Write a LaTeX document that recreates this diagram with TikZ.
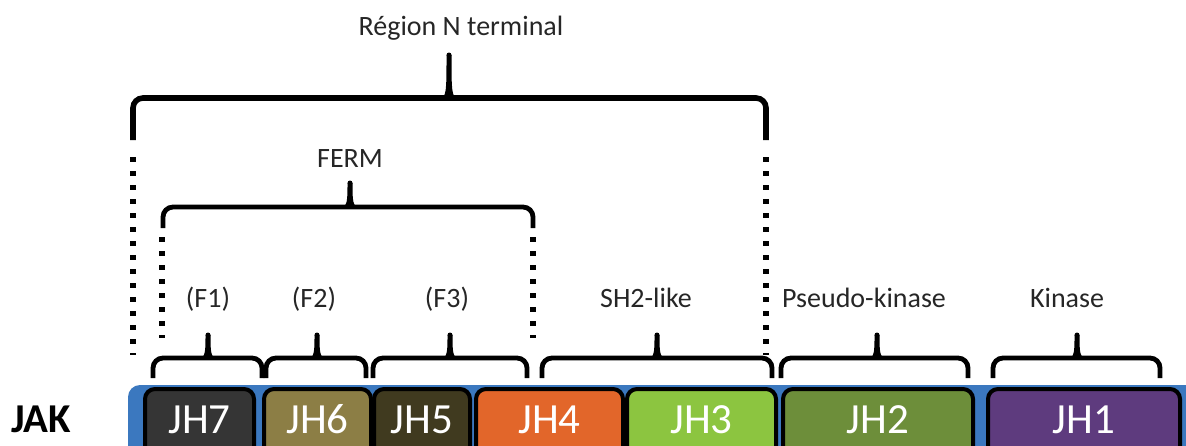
\documentclass[tikz,border=0pt]{standalone}
\usepackage{fontspec}
\setmainfont{Carlito}
\usetikzlibrary{calc}

\definecolor{jakblue}{HTML}{3B78BF}
\definecolor{jhseven}{HTML}{353535}
\definecolor{jhsix}{HTML}{8C7E45}
\definecolor{jhfive}{HTML}{403A1F}
\definecolor{jhfour}{HTML}{E2662A}
\definecolor{jhthree}{HTML}{8CC540}
\definecolor{jhtwo}{HTML}{6D8E3A}
\definecolor{jhone}{HTML}{5E3B7E}

\tikzset{
  lbl/.style={anchor=base, inner sep=0pt, font=\fontsize{14}{16}\selectfont, text=black!85},
  domainbox/.style={draw=black, line width=2pt, rounded corners=5pt},
  domaintext/.style={anchor=base, inner sep=0pt, text=white, font=\fontsize{21.5}{24}\selectfont},
  dotline/.style={line width=2.7pt, dash pattern=on 2.7pt off 4.3pt},
}

% brace: [width]{left}{right}{tip x}{tip y}{bar y}{foot y}
\newcommand{\jakbrace}[7][2.4pt]{%
  \draw[line width=#1, rounded corners=5pt] (#2,#7) |- (#3,#6) -- (#3,#7);
  \fill (#4-10,#6+1) .. controls (#4-2.5,#6) and (#4-2.5,#6-6) .. (#4-2.5,#5)
    -- (#4+2.5,#5) .. controls (#4+2.5,#6-6) and (#4+2.5,#6) .. (#4+10,#6+1) -- cycle;
  \fill (#4,#5) circle (1.25pt);
}

\begin{document}
\begin{tikzpicture}[x=0.5pt, y=-0.5pt]
\useasboundingbox (0,0) rectangle (1186,445);
\clip (0,0) rectangle (1186,445);

% protein bar
\fill[jakblue, rounded corners=6pt] (128,385) rectangle (1210,480);
\foreach \xa/\xb/\col/\lab in {145/254/jhseven/JH7, 264/371/jhsix/JH6, 374/470/jhfive/JH5,
    476/623/jhfour/JH4, 627/776/jhthree/JH3, 783/973/jhtwo/JH2, 988/1180/jhone/JH1}{
  \draw[domainbox, fill=\col] (\xa,389) rectangle (\xb,470);
  \node[domaintext] (\lab) at ({(\xa+\xb)/2},433) {\lab};
}
\node[anchor=base, inner sep=0pt, font=\bfseries\fontsize{20.5}{24}\selectfont] (jak) at (41,432) {JAK};

% domain braces
\jakbrace{153}{262}{208}{335}{358}{378}
\jakbrace{266}{366}{317}{335}{358}{378}
\jakbrace{373}{527}{450}{335}{358}{378}
\jakbrace{542}{772}{657}{335}{358}{378}
\jakbrace{781}{968}{877}{335}{358}{378}
\jakbrace{993}{1160}{1077}{335}{358}{378}

\node[lbl] (f1) at (208,307) {(F1)};
\node[lbl] (f2) at (314,307) {(F2)};
\node[lbl] (f3) at (447,307) {(F3)};
\node[lbl] (sh2) at (646,307) {SH2-like};
\node[lbl] (pseudo) at (864,307) {Pseudo-kinase};
\node[lbl] (kinase) at (1067,307) {Kinase};

% FERM
\jakbrace{163}{533}{350}{183}{207}{228}
\draw[dotline] (162,237) -- (162,338);
\draw[dotline] (533,237) -- (533,338);
\node[lbl] (ferm) at (350,167) {FERM};

% N-terminal region
\jakbrace[2.8pt]{133}{766}{449}{55}{98}{140}
\draw[dotline] (133,157) -- (133,355);
\draw[dotline] (766,157) -- (766,355);
\node[lbl] (nterm) at (461,35) {Région N terminal};
\end{tikzpicture}
\end{document}
